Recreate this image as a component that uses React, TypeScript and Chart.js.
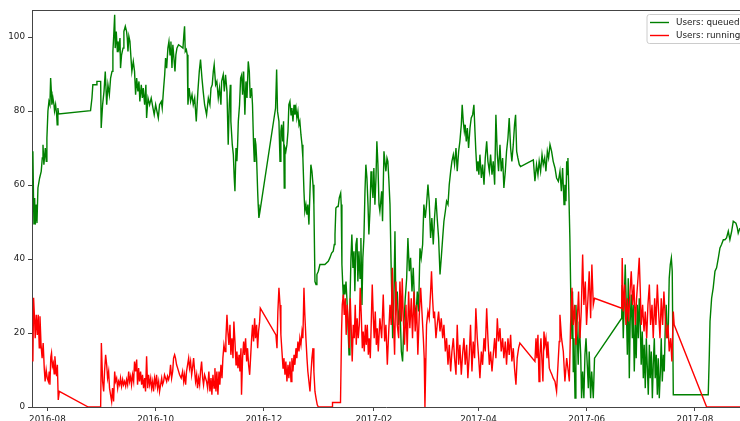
import React, { useEffect, useRef } from "react";
import { Chart, registerables } from "chart.js";

Chart.register(...registerables);

// ---- data ----
const START_DATE = "2016-08-01"; // day 0 of the day offsets below
const X_RANGE_DAYS = [-8.7, 390.4];
const Y_RANGE = [0, 107.3];
const xTickLabels = ["2016-08", "2016-10", "2016-12", "2017-02", "2017-04", "2017-06", "2017-08"];
const yTickValues = [0, 20, 40, 60, 80, 100];
const seriesLabels = ["Users: queued", "Users: running"];
const seriesColors = ["#008000", "#ff0000"];

// days since START_DATE
const queuedDays = [
  -8.2, -7.8, -7.6, -7.2, -6.9, -6.3, -5.9, -5.35, -4.4, -3.5,
  -2.9, -2.5, -2.0, -1.2, -0.65, -0.3, 0.28, 0.85, 1.4, 1.8,
  2.2, 2.5, 3.1, 3.7, 4.0, 4.6, 5.2, 5.5, 5.9, 6.3,
  24.3, 25.1, 25.6, 27.5, 27.9, 30.0, 30.3, 31.1, 31.9, 32.6,
  33.4, 34.1, 34.9, 35.6, 36.4, 36.9, 37.3, 37.9, 38.2, 38.8,
  39.4, 39.7, 40.3, 40.9, 41.2, 41.8, 42.6, 43.1, 43.9, 44.6,
  45.0, 45.4, 45.9, 46.5, 47.1, 47.6, 48.4, 49.1, 49.7, 50.3,
  51.0, 51.6, 52.1, 52.9, 53.5, 54.0, 54.8, 55.5, 55.9, 56.7,
  57.6, 58.5, 59.5, 60.2, 61.0, 61.7, 62.5, 63.2, 64.2, 64.7,
  65.5, 66.1, 66.6, 67.2, 67.9, 68.5, 69.1, 69.6, 70.2, 70.7,
  71.3, 71.9, 72.4, 73.0, 73.9, 75.1, 76.4, 76.9, 77.3, 77.7,
  78.3, 78.8, 79.2, 79.9, 80.7, 81.5, 82.2, 83.0, 83.9, 84.8,
  85.6, 86.3, 87.1, 87.8, 88.6, 89.7, 90.7, 91.6, 92.2, 92.9,
  93.5, 94.0, 94.8, 95.5, 96.3, 97.0, 97.8, 98.2, 99.1, 99.7,
  100.4, 101.2, 101.9, 102.5, 103.1, 103.4, 104.2, 104.8, 105.3, 105.7,
  106.3, 106.8, 107.2, 107.6, 108.3, 108.9, 109.5, 110.0, 110.6, 111.3,
  111.9, 112.5, 113.2, 113.8, 114.3, 115.1, 115.6, 116.2, 116.6, 117.0,
  117.5, 117.9, 118.5, 118.8, 119.2, 119.8, 128.6, 129.2, 129.7, 130.5,
  131.1, 131.6, 132.0, 132.6, 133.1, 133.5, 133.9, 134.4, 135.0, 135.6,
  136.1, 136.7, 137.3, 137.8, 138.4, 139.0, 139.5, 140.1, 140.6, 141.2,
  141.8, 142.3, 142.9, 143.5, 144.0, 144.6, 145.1, 145.7, 146.3, 146.8,
  147.4, 148.0, 148.5, 149.1, 149.7, 150.2, 150.8, 151.4, 151.9, 152.7,
  153.6, 156.4, 158.3, 159.2, 160.2, 161.1, 161.7, 162.1, 162.6, 163.4,
  163.9, 164.5, 165.3, 165.6, 166.0, 166.4, 166.8, 167.3, 167.7, 168.3,
  168.8, 169.4, 170.0, 170.5, 171.1, 171.6, 172.2, 172.8, 173.3, 173.9,
  174.5, 175.0, 175.6, 176.2, 176.7, 177.3, 177.8, 178.4, 179.0, 179.5,
  180.1, 180.7, 181.2, 181.8, 182.4, 182.9, 183.5, 184.0, 184.6, 185.2,
  185.7, 186.3, 186.9, 187.4, 188.4, 188.9, 189.7, 190.2, 190.8, 191.4,
  191.9, 192.5, 193.1, 193.8, 194.6, 195.3, 195.9, 196.4, 197.2, 197.9,
  198.7, 199.5, 200.2, 201.0, 201.7, 202.5, 203.2, 204.0, 204.7, 205.5,
  206.2, 207.0, 207.7, 208.5, 209.2, 210.0, 210.7, 211.5, 212.2, 213.0,
  213.7, 214.5, 215.2, 216.0, 216.7, 217.5, 218.2, 219.0, 219.7, 220.5,
  221.3, 222.0, 222.8, 223.5, 224.3, 225.0, 225.8, 226.5, 227.3, 228.0,
  228.8, 229.5, 230.3, 231.0, 231.8, 232.5, 233.3, 233.8, 234.4, 235.0,
  235.5, 236.1, 236.7, 237.4, 238.2, 238.9, 239.7, 240.4, 241.0, 241.5,
  242.1, 242.7, 243.2, 243.8, 244.6, 245.3, 246.1, 246.8, 247.6, 248.3,
  249.1, 249.8, 250.6, 251.3, 252.1, 252.8, 253.6, 254.3, 255.1, 255.8,
  256.6, 257.3, 258.1, 258.8, 259.6, 260.3, 261.1, 261.8, 262.6, 263.3,
  263.9, 264.5, 265.2, 266.0, 266.7, 273.9, 274.8, 275.7, 276.5, 277.2,
  278.0, 278.8, 279.5, 280.3, 281.0, 281.8, 282.5, 283.3, 284.2, 285.1,
  286.1, 287.0, 288.0, 288.9, 289.7, 290.4, 291.2, 291.7, 292.3, 292.7,
  293.0, 293.4, 293.9, 294.5, 295.1, 295.7, 296.0, 296.4, 296.8, 297.4,
  297.9, 298.7, 299.2, 299.8, 300.6, 301.1, 301.7, 302.4, 303.0, 303.6,
  304.3, 304.9, 305.4, 306.2, 306.8, 307.7, 308.4, 323.7, 324.0, 324.6,
  325.2, 325.7, 326.3, 326.9, 327.4, 328.0, 328.5, 329.1, 329.7, 330.2,
  330.8, 331.4, 331.9, 332.5, 333.1, 333.6, 334.2, 334.7, 335.3, 335.9,
  336.4, 337.0, 337.6, 338.1, 338.7, 339.3, 339.8, 340.4, 341.0, 341.5,
  342.1, 342.6, 343.2, 343.8, 344.3, 344.9, 345.5, 346.0, 346.6, 347.2,
  347.7, 348.3, 348.8, 349.4, 350.0, 350.5, 351.1, 351.7, 352.2, 352.8,
  372.5, 373.1, 373.5, 374.4, 375.3, 376.3, 377.2, 378.2, 379.1, 380.0,
  381.0, 381.9, 382.8, 383.8, 384.7, 385.7, 386.6, 388.1, 388.9, 389.4,
  390.4,
];
const queuedUsers = [
  69.1, 54.7, 49.3, 56.5, 49.3, 54.7, 49.7, 59.2, 61.9, 63.7,
  67.3, 70.9, 65.5, 70.0, 66.4, 72.7, 80.0, 82.6, 81.7, 88.9,
  85.3, 81.7, 83.5, 81.7, 80.0, 81.7, 79.0, 76.3, 80.8, 79.2,
  80.1, 83.5, 87.1, 87.1, 88.0, 88.0, 75.4, 81.7, 85.3, 90.7,
  81.7, 87.1, 84.4, 88.9, 90.7, 96.1, 99.7, 106.0, 97.0, 101.5,
  96.1, 98.8, 97.0, 99.7, 91.6, 95.2, 97.0, 101.5, 102.9, 101.5,
  99.7, 96.1, 100.2, 98.8, 94.3, 90.7, 93.4, 90.7, 84.4, 88.9,
  85.3, 88.0, 82.6, 87.1, 83.5, 86.2, 81.7, 87.1, 78.1, 83.5,
  81.7, 83.5, 80.8, 79.0, 81.7, 80.0, 78.1, 81.7, 82.6, 80.8,
  86.2, 89.8, 94.3, 91.6, 97.0, 98.8, 95.2, 98.8, 91.6, 97.9,
  94.3, 90.7, 95.2, 97.0, 97.9, 97.5, 97.0, 100.6, 102.9, 96.1,
  96.6, 95.2, 81.7, 86.2, 82.6, 84.4, 81.7, 83.5, 77.2, 85.3,
  90.7, 93.9, 88.9, 85.3, 81.7, 79.0, 83.5, 81.7, 86.2, 87.1,
  90.7, 92.5, 87.1, 88.0, 83.5, 86.2, 81.7, 88.0, 89.8, 85.3,
  89.8, 85.3, 70.9, 81.7, 87.1, 77.2, 70.9, 68.2, 61.9, 58.3,
  70.0, 66.4, 70.9, 77.2, 81.7, 88.9, 89.8, 84.4, 90.7, 79.0,
  88.0, 83.5, 93.4, 90.7, 83.5, 86.2, 81.7, 70.9, 66.4, 72.7,
  70.9, 67.3, 58.3, 54.7, 51.1, 52.9, 80.8, 91.2, 79.9, 77.2,
  66.4, 74.5, 76.3, 71.8, 77.2, 59.2, 70.0, 69.1, 70.9, 74.5,
  81.7, 82.6, 79.0, 80.8, 77.2, 81.7, 79.0, 80.8, 78.1, 79.9,
  76.3, 77.2, 73.6, 70.9, 67.3, 58.3, 52.9, 54.7, 52.0, 54.7,
  49.3, 58.3, 65.5, 63.7, 60.1, 54.7, 33.9, 33.1, 35.8, 36.7,
  38.5, 38.5, 39.4, 40.3, 41.6, 42.1, 43.9, 46.6, 53.8, 54.2,
  54.2, 56.5, 57.8, 54.7, 38.5, 33.9, 29.4, 33.1, 30.4, 33.9,
  29.4, 22.2, 14.1, 27.6, 40.3, 46.6, 37.6, 42.1, 31.3, 43.9,
  45.7, 33.9, 42.1, 34.8, 45.7, 27.6, 40.3, 45.7, 58.3, 65.5,
  61.9, 54.7, 46.6, 52.9, 63.7, 60.1, 56.5, 64.6, 54.7, 61.9,
  71.8, 65.5, 54.7, 52.9, 58.3, 50.2, 69.1, 66.4, 63.7, 67.3,
  66.4, 61.0, 54.7, 36.7, 18.6, 29.4, 47.5, 27.6, 31.2, 22.2,
  27.6, 15.0, 12.3, 23.1, 29.4, 34.8, 45.7, 36.7, 40.3, 31.2,
  37.6, 27.6, 24.0, 31.2, 25.8, 42.9, 40.3, 43.9, 54.7, 51.1,
  54.7, 60.1, 55.6, 45.7, 51.1, 43.9, 51.1, 56.5, 51.1, 45.7,
  35.8, 40.3, 45.7, 50.2, 52.9, 55.6, 54.7, 60.1, 63.7, 66.4,
  68.2, 65.5, 70.0, 63.7, 69.1, 71.8, 76.3, 81.7, 77.2, 74.5,
  76.3, 71.8, 75.4, 70.0, 75.4, 78.1, 79.0, 81.7, 74.5, 69.1,
  63.7, 66.4, 62.8, 68.2, 61.9, 65.5, 60.1, 67.3, 71.8, 66.4,
  63.7, 68.2, 62.8, 66.4, 60.1, 79.0, 68.2, 63.7, 70.9, 63.7,
  67.3, 59.2, 63.7, 69.1, 72.7, 78.1, 70.0, 66.4, 70.9, 76.3,
  79.0, 69.1, 67.3, 65.5, 65.0, 66.8, 61.0, 65.5, 62.8, 66.4,
  63.7, 68.2, 65.5, 67.3, 63.7, 69.1, 67.3, 70.9, 69.1, 66.4,
  64.6, 61.9, 61.0, 63.7, 58.3, 64.6, 54.7, 60.1, 55.6, 66.4,
  62.8, 67.3, 58.3, 45.7, 27.6, 18.6, 31.2, 9.6, 18.6, 2.4,
  27.6, 18.6, 11.4, 23.1, 14.1, 2.4, 9.6, 2.4, 14.1, 18.6,
  11.4, 5.1, 15.0, 2.4, 9.6, 2.4, 13.2, 24.0, 33.0, 18.6,
  29.4, 38.5, 27.6, 14.1, 34.8, 7.8, 23.1, 30.4, 18.6, 27.6,
  9.6, 22.2, 13.2, 27.6, 18.6, 29.4, 22.2, 11.4, 20.4, 7.8,
  16.8, 5.1, 18.6, 11.4, 3.3, 16.8, 7.8, 15.0, 2.4, 11.4,
  18.6, 7.8, 14.1, 3.3, 13.2, 2.4, 9.6, 18.6, 6.9, 14.1,
  9.6, 22.2, 27.6, 18.6, 22.2, 34.8, 38.5, 40.3, 36.7, 3.3,
  3.3, 14.1, 23.1, 29.4, 32.2, 36.7, 37.6, 40.3, 43.0, 43.9,
  45.2, 45.2, 45.7, 47.5, 45.2, 47.5, 50.2, 49.7, 48.4, 47.0,
  48.4,
];

const runningDays = [
  -8.2, -7.8, -7.2, -6.9, -6.3, -5.7, -5.2, -4.6, -4.2, -3.6,
  -3.0, -2.4, -1.8, -1.3, -0.7, -0.1, 0.5, 1.0, 1.4, 1.9,
  2.3, 2.8, 3.3, 3.8, 4.2, 4.7, 5.2, 5.6, 6.1, 6.7,
  23.0, 30.0, 30.4, 31.1, 31.7, 32.2, 32.8, 33.4, 33.9, 34.5,
  35.0, 35.6, 36.2, 36.7, 37.3, 37.9, 38.4, 39.0, 39.6, 40.1,
  40.7, 41.2, 41.8, 42.4, 42.9, 43.5, 44.1, 44.6, 45.2, 45.8,
  46.3, 46.9, 47.4, 48.0, 48.6, 49.1, 49.7, 50.3, 50.8, 51.4,
  51.9, 52.5, 53.1, 53.6, 54.2, 54.8, 55.3, 55.9, 56.5, 57.0,
  57.6, 58.2, 58.7, 59.3, 59.8, 60.4, 61.0, 61.5, 62.1, 62.7,
  63.2, 63.8, 64.4, 64.9, 65.5, 66.0, 66.6, 67.2, 67.7, 68.3,
  68.9, 69.4, 70.0, 70.6, 71.1, 71.7, 72.2, 72.8, 73.4, 74.5,
  75.4, 76.2, 76.8, 77.3, 77.9, 78.4, 79.0, 79.6, 80.1, 80.7,
  81.3, 81.8, 82.4, 83.0, 83.5, 84.1, 84.6, 85.2, 85.8, 86.3,
  86.9, 87.5, 88.0, 88.6, 89.7, 90.3, 91.0, 91.6, 92.2, 92.7,
  93.3, 93.9, 94.4, 95.0, 95.5, 96.1, 96.7, 97.2, 97.8, 98.4,
  98.9, 99.5, 100.1, 100.6, 101.2, 101.7, 102.3, 102.9, 103.4, 104.0,
  104.6, 105.1, 105.7, 106.3, 106.8, 107.4, 108.0, 108.5, 109.1, 109.4,
  110.0, 110.6, 111.1, 111.7, 112.3, 112.8, 113.4, 114.0, 114.5, 115.1,
  115.6, 116.2, 116.8, 117.3, 117.9, 118.5, 119.0, 119.6, 120.0, 128.8,
  129.4, 129.9, 130.5, 131.1, 131.6, 132.2, 132.8, 133.3, 133.9, 134.4,
  135.0, 135.6, 136.1, 136.7, 137.3, 137.8, 138.4, 139.0, 139.5, 140.1,
  140.6, 141.2, 141.8, 142.3, 142.9, 143.5, 144.0, 144.6, 145.1, 145.7,
  146.3, 146.8, 147.4, 148.0, 148.5, 149.1, 149.7, 150.2, 150.8, 151.4,
  152.1, 152.7, 160.5, 160.7, 165.2, 165.8, 166.2, 166.8, 167.3, 167.9,
  168.4, 169.0, 169.6, 170.1, 170.7, 171.3, 171.8, 172.4, 173.0, 173.5,
  174.1, 174.6, 175.2, 175.8, 176.3, 176.9, 177.5, 178.0, 178.6, 179.2,
  179.7, 180.3, 180.9, 181.4, 182.0, 182.5, 183.1, 183.7, 184.2, 184.8,
  185.4, 185.9, 186.5, 187.4, 188.4, 189.3, 190.1, 190.8, 191.6, 192.3,
  193.1, 193.8, 194.4, 194.9, 195.7, 196.4, 197.2, 198.0, 198.7, 199.5,
  200.0, 200.6, 201.3, 202.1, 202.8, 203.6, 204.3, 205.1, 205.8, 206.6,
  207.3, 208.1, 208.8, 209.6, 210.4, 211.1, 211.9, 212.4, 212.8, 213.2,
  213.7, 214.5, 215.2, 216.0, 216.5, 217.1, 217.7, 218.2, 219.0, 219.7,
  220.5, 221.3, 222.0, 222.8, 223.5, 224.3, 225.0, 225.8, 226.5, 227.3,
  228.0, 228.8, 229.5, 230.3, 231.0, 231.8, 232.5, 233.3, 234.0, 234.8,
  235.5, 236.3, 237.0, 237.8, 238.5, 239.3, 240.0, 240.8, 241.5, 242.3,
  243.1, 243.8, 244.6, 245.3, 246.1, 246.8, 247.6, 248.3, 249.1, 249.8,
  250.6, 251.3, 252.1, 252.8, 253.6, 254.3, 255.1, 255.8, 256.6, 257.3,
  258.1, 258.8, 259.6, 260.3, 261.1, 261.8, 262.6, 263.3, 264.1, 264.8,
  265.6, 266.3, 274.8, 275.4, 275.9, 276.5, 277.1, 277.6, 278.2, 278.7,
  279.3, 279.9, 280.4, 281.0, 281.6, 282.1, 282.9, 283.6, 284.4, 285.1,
  286.1, 287.0, 287.8, 288.5, 288.9, 289.8, 290.8, 291.7, 292.7, 293.6,
  294.2, 294.9, 295.7, 296.4, 297.2, 297.9, 298.7, 299.4, 300.2, 300.9,
  301.7, 302.4, 303.2, 303.9, 304.7, 305.4, 306.2, 306.9, 307.7, 308.4,
  323.7, 324.0, 324.6, 325.4, 326.1, 326.9, 327.6, 328.4, 329.1, 329.9,
  330.6, 331.4, 332.1, 332.9, 333.6, 334.2, 334.7, 335.5, 336.3, 337.0,
  337.8, 338.5, 339.3, 340.0, 340.8, 341.5, 342.3, 343.0, 343.8, 344.5,
  345.3, 346.0, 346.8, 347.5, 348.3, 349.0, 349.8, 350.5, 351.3, 352.0,
  352.8, 353.3, 371.6, 390.4,
];
const runningUsers = [
  12.3, 29.5, 23.1, 18.6, 24.9, 19.5, 24.9, 16.0, 24.5, 16.8,
  13.2, 17.3, 10.5, 6.9, 10.0, 7.8, 6.9, 9.6, 6.0, 13.5,
  14.6, 11.0, 11.9, 9.0, 13.7, 10.5, 8.3, 11.4, 1.9, 4.2,
  0, 0, 17.3, 6.9, 4.2, 9.6, 14.1, 11.4, 7.8, 9.6,
  5.1, 3.3, 1.5, 5.1, 1.5, 9.6, 6.9, 7.8, 5.1, 6.9,
  6.0, 7.8, 5.6, 7.4, 6.0, 6.9, 5.6, 7.4, 6.0, 9.6,
  6.9, 8.3, 6.0, 8.7, 6.9, 12.3, 9.6, 12.8, 6.0, 10.5,
  6.9, 9.6, 6.0, 8.7, 5.1, 7.8, 4.2, 13.7, 5.1, 8.7,
  6.0, 7.8, 5.1, 6.9, 4.2, 7.8, 6.0, 8.7, 5.1, 6.9,
  4.2, 6.0, 7.8, 6.0, 6.9, 8.7, 7.8, 6.9, 8.3, 7.4,
  8.7, 11.4, 7.8, 9.6, 13.2, 14.1, 13.2, 11.4, 10.5, 8.7,
  7.8, 9.6, 6.9, 8.7, 6.0, 9.6, 11.4, 13.2, 10.5, 12.3,
  8.7, 10.5, 13.2, 9.6, 6.9, 8.7, 5.1, 7.8, 6.0, 9.6,
  12.3, 7.8, 6.0, 8.7, 6.9, 5.1, 9.6, 4.2, 7.8, 3.3,
  8.7, 5.1, 10.5, 4.2, 9.6, 3.3, 9.6, 6.0, 11.4, 7.8,
  13.2, 16.8, 15.0, 18.6, 24.9, 20.4, 16.8, 22.2, 14.1, 18.6,
  13.2, 23.1, 17.7, 11.4, 15.0, 10.5, 14.1, 9.6, 15.9, 3.3,
  13.2, 17.7, 14.1, 18.6, 12.3, 15.9, 11.4, 8.7, 13.2, 18.6,
  22.2, 17.7, 24.0, 18.6, 22.2, 15.9, 20.4, 23.0, 26.7, 19.5,
  15.9, 25.8, 32.2, 27.6, 19.5, 15.0, 10.5, 13.2, 8.7, 12.3,
  6.9, 11.4, 7.8, 12.3, 6.9, 13.2, 9.6, 14.1, 11.4, 15.9,
  13.2, 17.7, 15.0, 18.6, 16.8, 20.4, 18.6, 32.2, 24.9, 18.6,
  13.2, 9.6, 6.9, 4.2, 8.7, 13.2, 15.9, 9.6, 4.2, 2.4,
  0.6, 0, 0, 1.2, 1.2, 20.4, 27.6, 30.4, 24.9, 29.4,
  19.5, 27.6, 23.1, 15.9, 29.4, 20.4, 12.3, 22.2, 18.6, 27.6,
  16.8, 24.0, 18.6, 22.2, 32.2, 24.9, 15.9, 20.4, 15.0, 22.2,
  16.8, 22.2, 14.1, 18.6, 13.2, 22.2, 33.1, 24.0, 18.6, 25.8,
  16.8, 21.3, 15.0, 24.0, 18.6, 30.4, 17.7, 22.2, 11.4, 19.5,
  27.6, 22.2, 37.6, 25.8, 14.1, 33.9, 22.2, 18.6, 33.9, 23.1,
  34.8, 24.0, 16.8, 27.6, 15.0, 31.2, 21.3, 29.4, 18.6, 31.2,
  20.4, 27.6, 14.1, 24.9, 32.2, 25.8, 18.6, 13.2, 0, 9.6,
  22.2, 25.8, 24.0, 31.2, 36.7, 29.4, 24.0, 25.8, 18.6, 22.2,
  25.8, 20.4, 24.0, 18.6, 22.2, 15.0, 18.6, 11.4, 16.8, 9.6,
  15.0, 18.6, 13.2, 8.7, 22.2, 11.4, 16.8, 8.7, 14.1, 18.6,
  11.4, 16.8, 7.8, 14.1, 22.2, 9.6, 17.7, 13.2, 26.7, 18.6,
  13.2, 7.8, 15.0, 11.4, 18.6, 15.0, 26.7, 18.6, 11.4, 15.0,
  9.6, 14.1, 18.6, 13.2, 24.0, 17.7, 21.3, 15.0, 18.6, 13.2,
  17.7, 11.4, 18.6, 14.1, 19.5, 12.3, 15.9, 10.5, 6.0, 13.2,
  15.9, 17.3, 12.3, 18.6, 13.2, 19.5, 6.9, 14.1, 18.6, 13.2,
  6.9, 20.4, 16.8, 18.6, 13.2, 17.7, 10.5, 9.6, 8.7, 7.8,
  6.9, 4.2, 11.4, 17.7, 24.9, 18.6, 15.0, 6.9, 13.2, 9.6,
  6.9, 22.2, 32.2, 22.2, 27.6, 16.8, 24.0, 31.2, 18.6, 25.8,
  41.2, 27.6, 33.9, 22.2, 29.4, 36.7, 24.0, 38.5, 27.6, 29.4,
  26.7, 40.3, 25.8, 33.1, 22.2, 29.4, 23.1, 31.2, 36.7, 27.6,
  33.1, 22.2, 29.4, 34.8, 40.3, 31.2, 22.2, 27.6, 20.4, 25.8,
  18.6, 27.6, 33.1, 22.2, 27.6, 18.6, 29.4, 22.2, 33.1, 25.8,
  18.6, 29.4, 22.2, 31.2, 24.0, 18.6, 22.2, 15.0, 18.6, 12.3,
  25.8, 22.2, 0, 0,
];

// ---- helpers ----
const DAY_MS = 86400000;
const monthToDay = (ym: string) =>
  (Date.parse(ym + "-01T00:00:00Z") - Date.parse(START_DATE + "T00:00:00Z")) / DAY_MS;
const xTickDays = xTickLabels.map(monthToDay);
const toPoints = (xs: number[], ys: number[]) => xs.map((x, i) => ({ x, y: ys[i] }));

const FONT_FAMILY = '"DejaVu Sans", sans-serif';
const FONT_SIZE = 8.8;
const SPINE_COLOR = "#444444";
const TEXT_COLOR = "#1a1a1a";
const LINE_WIDTH = 1.4;

const framePlugin = {
  id: "mplFrame",
  afterDraw(chart: any) {
    const { ctx, chartArea } = chart;
    ctx.save();
    // top spine
    ctx.strokeStyle = SPINE_COLOR;
    ctx.lineWidth = 1;
    ctx.beginPath();
    ctx.moveTo(chartArea.left, chartArea.top + 0.5);
    ctx.lineTo(chartArea.right, chartArea.top + 0.5);
    ctx.stroke();

    // legend (upper right, clipped by canvas edge like the reference)
    const bx = chartArea.right - 93;
    const by = chartArea.top + 4.5;
    const bw = 120;
    const bh = 29;
    const r = 2.5;
    ctx.beginPath();
    ctx.moveTo(bx + r, by);
    ctx.lineTo(bx + bw - r, by);
    ctx.arcTo(bx + bw, by, bx + bw, by + r, r);
    ctx.lineTo(bx + bw, by + bh - r);
    ctx.arcTo(bx + bw, by + bh, bx + bw - r, by + bh, r);
    ctx.lineTo(bx + r, by + bh);
    ctx.arcTo(bx, by + bh, bx, by + bh - r, r);
    ctx.lineTo(bx, by + r);
    ctx.arcTo(bx, by, bx + r, by, r);
    ctx.closePath();
    ctx.fillStyle = "rgba(255,255,255,0.8)";
    ctx.fill();
    ctx.strokeStyle = "#cccccc";
    ctx.lineWidth = 1;
    ctx.stroke();

    ctx.font = `${FONT_SIZE}px ${FONT_FAMILY}`;
    ctx.textBaseline = "middle";
    ctx.textAlign = "left";
    seriesLabels.forEach((label, i) => {
      const y = by + 8 + i * 13;
      ctx.strokeStyle = seriesColors[i];
      ctx.lineWidth = LINE_WIDTH;
      ctx.beginPath();
      ctx.moveTo(bx + 3, y);
      ctx.lineTo(bx + 22, y);
      ctx.stroke();
      ctx.fillStyle = TEXT_COLOR;
      ctx.fillText(label, bx + 29, y + 0.5);
    });
    ctx.restore();
  },
};

export default function App() {
  const ref = useRef<HTMLCanvasElement>(null);
  useEffect(() => {
    document.body.style.margin = "0";
    document.body.style.overflow = "hidden";
    const tickFont = { family: FONT_FAMILY, size: FONT_SIZE };
    const chart = new Chart(ref.current as HTMLCanvasElement, {
      type: "line",
      data: {
        datasets: [
          {
            label: seriesLabels[0],
            data: toPoints(queuedDays, queuedUsers),
            borderColor: seriesColors[0],
            backgroundColor: seriesColors[0],
            borderWidth: LINE_WIDTH,
            pointRadius: 0,
            tension: 0,
            fill: false,
            order: 1,
          },
          {
            label: seriesLabels[1],
            data: toPoints(runningDays, runningUsers),
            borderColor: seriesColors[1],
            backgroundColor: seriesColors[1],
            borderWidth: LINE_WIDTH,
            pointRadius: 0,
            tension: 0,
            fill: false,
            order: 0,
          },
        ],
      },
      options: {
        animation: false,
        responsive: false,
        devicePixelRatio: 1,
        layout: { padding: { top: 10, left: 0, right: 0, bottom: 0 } },
        plugins: { legend: { display: false }, tooltip: { enabled: false } },
        scales: {
          x: {
            type: "linear",
            min: X_RANGE_DAYS[0],
            max: X_RANGE_DAYS[1],
            afterBuildTicks: (s: any) => {
              s.ticks = xTickDays.map((v) => ({ value: v }));
            },
            afterFit: (s: any) => {
              s.height = 14;
            },
            ticks: {
              autoSkip: false,
              maxRotation: 0,
              minRotation: 0,
              padding: 3,
              color: TEXT_COLOR,
              font: tickFont,
              callback: (_v: any, i: number) => xTickLabels[i],
            },
            grid: { drawOnChartArea: false, drawTicks: true, tickLength: 4, color: SPINE_COLOR },
            border: { display: true, color: SPINE_COLOR, width: 1 },
          },
          y: {
            type: "linear",
            min: Y_RANGE[0],
            max: Y_RANGE[1],
            afterBuildTicks: (s: any) => {
              s.ticks = yTickValues.map((v) => ({ value: v }));
            },
            afterFit: (s: any) => {
              s.width = 32;
            },
            ticks: {
              padding: 3,
              color: TEXT_COLOR,
              font: tickFont,
              callback: (v: any) => String(v),
            },
            grid: { drawOnChartArea: false, drawTicks: true, tickLength: 4, color: SPINE_COLOR },
            border: { display: true, color: SPINE_COLOR, width: 1 },
          },
        },
      },
      plugins: [framePlugin],
    } as any);
    return () => chart.destroy();
  }, []);
  return (
    <div style={{ position: "fixed", left: 0, top: 0, width: 740, height: 421, background: "#fff" }}>
      <canvas ref={ref} width={740} height={421} style={{ display: "block" }} />
    </div>
  );
}
